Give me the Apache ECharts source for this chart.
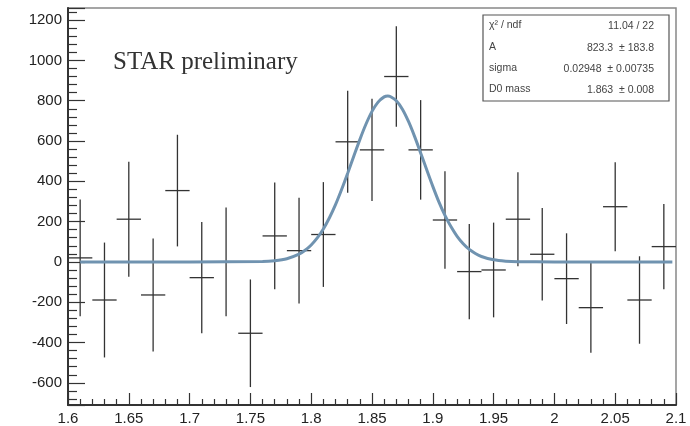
<!DOCTYPE html>
<html>
<head>
<meta charset="utf-8">
<script src="https://cdn.jsdelivr.net/npm/echarts@6/dist/echarts.min.js"></script>
<style>
html,body{margin:0;padding:0;background:#fff;}
#chart{width:690px;height:426px;}
</style>
</head>
<body>
<div id="chart"></div>
<script>
// Histogram bins (centre, content, error)
var binCenters = [1.61,1.63,1.65,1.67,1.69,1.71,1.73,1.75,1.77,1.79,1.81,1.83,1.85,1.87,1.89,1.91,1.93,1.95,1.97,1.99,2.01,2.03,2.05,2.07,2.09];
var counts = [20,-189,212,-164,354,-78,0,-354,129,56,136,596,556,920,556,208,-48,-40,212,38,-83,-227,274,-189,76];
var errors = [290,285,285,280,277,276,270,267,265,262,260,253,254,249,247,242,236,235,233,229,225,224,221,217,212];
var binHalfWidth = 0.01;

// Fit curve points
var fitX = [1.61,1.70,1.76,1.77,1.78,1.79,1.795,1.80,1.805,1.81,1.815,1.82,1.825,1.83,1.835,1.84,1.845,1.85,1.855,1.86,1.863,1.865,1.87,1.875,1.88,1.885,1.89,1.895,1.90,1.905,1.91,1.915,1.92,1.925,1.93,1.935,1.94,1.95,1.96,1.97,2.00,2.097];
var fitY = [0,0,1.8,5.7,15.6,38.4,57.6,84,119,163.6,219,284,359,440,524,607,683,747,793,819,823.3,821,800,758,697,623,541,457,375,298,231,174,127,90,62,42,27,10.6,3.7,1.1,0,0];

// Stats box
var statLabels = ["\u03c7\u00b2 / ndf","A","sigma","D0 mass"];
var statValues = ["11.04 / 22","823.3  \u00b1 183.8","0.02948  \u00b1 0.00735","1.863  \u00b1 0.008"];

var xTicks = {min:1.6, max:2.1, interval:0.05};
var yRange = {min:-710, max:1260};

var chart = echarts.init(document.getElementById('chart'), null, {renderer:'canvas'});

var errData = binCenters.map(function(x,i){ return [x, counts[i], errors[i]]; });
var fitData = fitX.map(function(x,i){ return [x, fitY[i]]; });

var graphics = [];
graphics.push({type:'rect', shape:{x:483, y:15, width:186, height:86}, style:{fill:'#fff', stroke:'#555', lineWidth:1.2}, z:100});
var rowY = [26, 48, 69, 90];
for (var i=0;i<statLabels.length;i++){
  graphics.push({type:'text', left:489, top:rowY[i]-6, style:{text:statLabels[i], font:'10.5px "Liberation Sans", Arial, sans-serif', fill:'#444'}, z:101});
  graphics.push({type:'text', x:654, y:rowY[i], style:{text:statValues[i], font:'10.5px "Liberation Sans", Arial, sans-serif', fill:'#444', textAlign:'right', textVerticalAlign:'middle'}, z:101});
}
graphics.push({type:'text', x:113, y:75, style:{text:'STAR preliminary', font:'25px "Liberation Serif", "Times New Roman", serif', fill:'#333', textVerticalAlign:'bottom'}, z:101});

var option = {
  animation:false,
  backgroundColor:'#fff',
  grid:{left:68, right:14, top:8, bottom:21, show:true, borderColor:'#888', borderWidth:1.5, containLabel:false},
  xAxis:{
    type:'value', min:xTicks.min, max:xTicks.max, interval:xTicks.interval,
    axisLine:{show:true, onZero:false, lineStyle:{color:'#333', width:2}},
    axisTick:{show:true, inside:true, length:12, lineStyle:{color:'#333', width:1.2}},
    minorTick:{show:true, splitNumber:5, length:6, lineStyle:{color:'#333', width:1.2}},
    splitLine:{show:false},
    axisLabel:{color:'#222', fontSize:15, margin:6, fontFamily:'"Liberation Sans", Arial, sans-serif',
      formatter:function(v){ return String(Math.round(v*100)/100); }}
  },
  yAxis:{
    type:'value', min:yRange.min, max:yRange.max, minInterval:200, maxInterval:200, splitNumber:10,
    axisLine:{show:true, onZero:false, lineStyle:{color:'#333', width:2}},
    axisTick:{show:true, inside:true, length:17, lineStyle:{color:'#333', width:1.2}},
    minorTick:{show:true, splitNumber:5, length:9, lineStyle:{color:'#333', width:1.2}},
    splitLine:{show:false},
    axisLabel:{color:'#222', fontSize:15, margin:6, showMinLabel:false, showMaxLabel:false, fontFamily:'"Liberation Sans", Arial, sans-serif',
      formatter:function(v){ return (v % 200 === 0) ? String(v) : ''; }}
  },
  series:[
    {
      type:'custom', data:errData, z:2, clip:true,
      renderItem:function(params, api){
        var x = api.value(0), y = api.value(1), e = api.value(2);
        var pTop = api.coord([x, y+e]);
        var pBot = api.coord([x, y-e]);
        var pL = api.coord([x-binHalfWidth, y]);
        var pR = api.coord([x+binHalfWidth, y]);
        var st = {stroke:'#333', lineWidth:1.3};
        return {type:'group', children:[
          {type:'line', shape:{x1:pTop[0], y1:pTop[1], x2:pBot[0], y2:pBot[1]}, style:st},
          {type:'line', shape:{x1:pL[0], y1:pL[1], x2:pR[0], y2:pR[1]}, style:st}
        ]};
      }
    },
    {
      type:'line', data:fitData, smooth:0.3, showSymbol:false, z:3,
      lineStyle:{color:'#7093b0', width:3}
    }
  ],
  graphic:graphics
};
chart.setOption(option);
</script>
</body>
</html>
